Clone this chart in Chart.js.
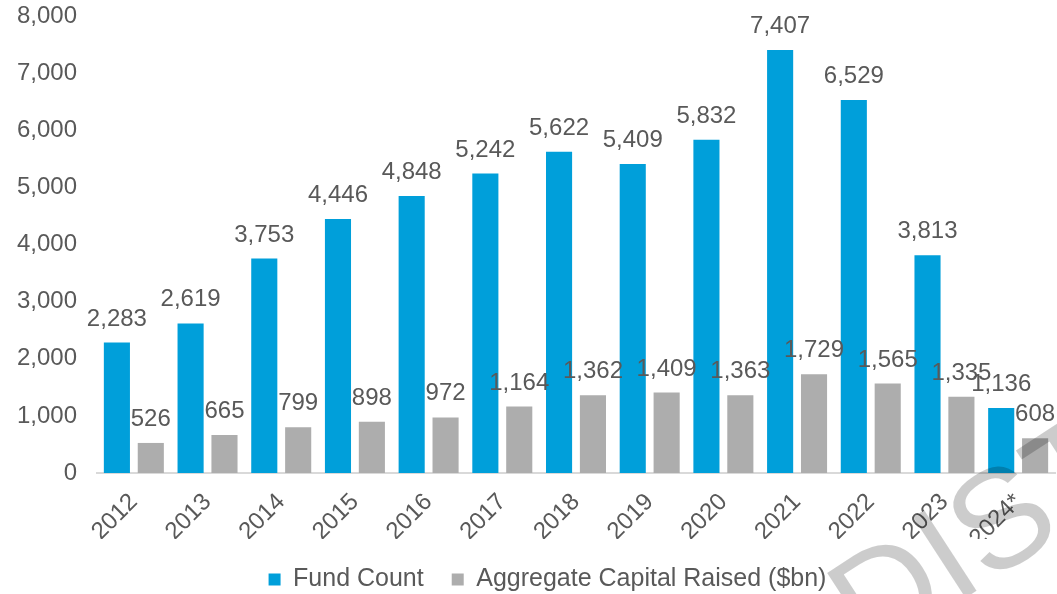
<!DOCTYPE html>
<html>
<head>
<meta charset="utf-8">
<script src="https://cdn.jsdelivr.net/npm/chart.js@4.4.1/dist/chart.umd.min.js"></script>
<style>
  html, body { margin: 0; padding: 0; background: #fff; }
  #wrap { width: 1057px; height: 594px; }
</style>
</head>
<body>
<div id="wrap"><canvas id="fundChart"></canvas></div>
<script>
// chart data
const years = ['2012', '2013', '2014', '2015', '2016', '2017', '2018', '2019', '2020', '2021', '2022', '2023', '2024*'];
const fundCount = [2283, 2619, 3753, 4446, 4848, 5242, 5622, 5409, 5832, 7407, 6529, 3813, 1136];
const capitalRaised = [526, 665, 799, 898, 972, 1164, 1362, 1409, 1363, 1729, 1565, 1335, 608];
const yTicks = [0, 1000, 2000, 3000, 4000, 5000, 6000, 7000, 8000];

const textColor = '#595959';
const fontFamily = '"Liberation Sans", Arial, sans-serif';

// draws the value above each bar, after all bars are drawn
const valueLabels = {
    id: 'valueLabels',
    afterDatasetsDraw(chart) {
        const ctx = chart.ctx;
        ctx.save();
        ctx.font = '24px ' + fontFamily;
        ctx.fillStyle = textColor;
        ctx.textAlign = 'center';
        ctx.textBaseline = 'alphabetic';
        chart.data.datasets.forEach((ds, i) => {
            const meta = chart.getDatasetMeta(i);
            meta.data.forEach((bar, j) => {
                ctx.fillText(ds.data[j].toLocaleString('en-US'), bar.x, bar.y - 17);
            });
        });
        ctx.restore();
    }
};

// legend sits a little right of the canvas centre in the original
const legendShift = {
    id: 'legendShift',
    afterLayout(chart) {
        chart.legend.left += 13;
        chart.legend.right += 13;
    }
};

// faint diagonal watermark in the corner
const watermark = {
    id: 'watermark',
    afterDraw(chart) {
        const ctx = chart.ctx;
        ctx.save();
        ctx.translate(870, 660);
        ctx.rotate(-33 * Math.PI / 180);
        ctx.font = '140px ' + fontFamily;
        ctx.fillStyle = 'rgba(0, 0, 0, 0.2)';
        ctx.textBaseline = 'alphabetic';
        ctx.fillText('DISTRIBUTION', 0, 0);
        ctx.restore();
    }
};

const ctx = document.getElementById('fundChart').getContext('2d');
new Chart(ctx, {
    type: 'bar',
    data: {
        labels: years,
        datasets: [{
            label: 'Fund Count',
            data: fundCount,
            backgroundColor: '#009FDA',
            barPercentage: 0.77,
            categoryPercentage: 0.92
        }, {
            label: 'Aggregate Capital Raised ($bn)',
            data: capitalRaised,
            backgroundColor: '#ADADAD',
            barPercentage: 0.77,
            categoryPercentage: 0.92
        }]
    },
    options: {
        responsive: true,
        maintainAspectRatio: false,
        animation: false,
        layout: { padding: { left: 14, right: 2, top: 16, bottom: -8 } },
        scales: {
            x: {
                afterFit(axis) {
                    axis.height = 66;
                    axis.paddingLeft = 0;
                    axis.paddingRight = 0;
                },
                grid: { display: false, drawTicks: false },
                border: { display: true, color: '#D9D9D9', width: 2 },
                ticks: {
                    color: textColor,
                    font: { size: 24, family: fontFamily },
                    minRotation: 45,
                    maxRotation: 45,
                    autoSkip: false,
                    padding: 15
                }
            },
            y: {
                min: 0,
                max: 8000,
                afterBuildTicks(axis) {
                    axis.ticks = yTicks.map(v => ({ value: v }));
                },
                afterFit(axis) {
                    axis.width = 83;
                    axis.paddingTop = 0;
                    axis.paddingBottom = 0;
                },
                grid: { display: false, drawTicks: false },
                border: { display: false },
                ticks: {
                    color: textColor,
                    font: { size: 24, family: fontFamily },
                    padding: 20,
                    callback: v => v.toLocaleString('en-US')
                }
            }
        },
        plugins: {
            legend: {
                position: 'bottom',
                labels: {
                    color: textColor,
                    font: { size: 25, family: fontFamily },
                    boxWidth: 12,
                    boxHeight: 12,
                    padding: 28
                }
            },
            tooltip: { enabled: false }
        }
    },
    plugins: [valueLabels, legendShift, watermark]
});
</script>
</body>
</html>
